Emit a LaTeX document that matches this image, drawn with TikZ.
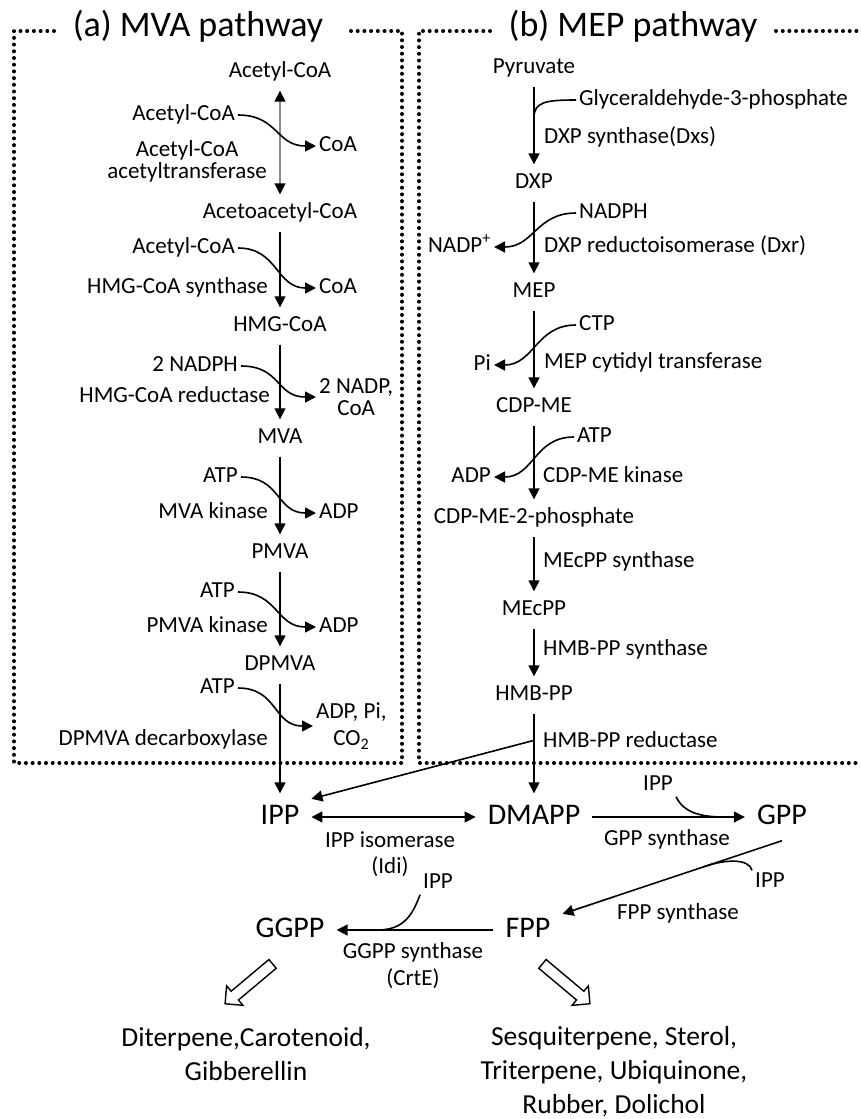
\documentclass[tikz,border=0pt]{standalone}
\usepackage{fontspec}
\setmainfont{Carlito}
\usetikzlibrary{arrows.meta,shapes.arrows,calc}
\definecolor{shaft}{HTML}{8A8A8A}

\begin{document}
\begin{tikzpicture}[
  x=1pt, y=-1pt,
  tx/.style={font=\fontsize{23}{22}\selectfont, inner xsep=3pt, inner ysep=1pt, align=center},
  lab/.style={tx, text height=16pt, text depth=5pt},
  met/.style={lab, inner ysep=8pt},
  big/.style={font=\fontsize{30}{30}\selectfont, text height=21pt, text depth=6pt, inner xsep=12pt, inner ysep=10pt},
  prod/.style={font=\fontsize{27.5}{34}\selectfont, align=center},
  ttl/.style={font=\fontsize{36}{36}\selectfont, anchor=base},
  flow/.style={-{Triangle[length=11pt,width=11pt]}, line width=1.6pt},
  dflow/.style={{Triangle[length=11pt,width=11pt]}-{Triangle[length=11pt,width=11pt]}, line width=1.6pt},
  gflow/.style={{Triangle[length=11pt,width=11pt,color=black]}-{Triangle[length=11pt,width=11pt,color=black]}, line width=1.6pt, draw=shaft},
  side/.style={line width=1.6pt},
  dots/.style={line width=4pt, dash pattern=on 0pt off 6.7pt, line cap=round},
  hollow/.style={single arrow, draw, line width=1.4pt, fill=white, inner xsep=0pt, inner ysep=5pt,
    minimum height=62pt, single arrow head extend=7pt},
]
\useasboundingbox (0,0) rectangle (860,1119);

% ===== frames and titles =====
\node[ttl] (ta) at (198,36) {(a) MVA pathway};
\node[ttl] (tb) at (633,36) {(b) MEP pathway};
\draw[dots] (54,31) -- (14,31) -- (14,763) -- (402,763) -- (402,31) -- (346,31);
\draw[dots] (490,31) -- (419,31) -- (419,763) -- (860,763);
\draw[dots] (776,31) -- (860,31);

% ===== (a) MVA pathway =====
\node[met] (acoa)  at (280,72)  {Acetyl-CoA};
\node[met] (acac)  at (280,213) {Acetoacetyl-CoA};
\node[met] (hmg)   at (280,326) {HMG-CoA};
\node[met] (mva)   at (280,438) {MVA};
\node[met] (pmva)  at (280,553) {PMVA};
\node[met] (dpmva) at (280,665) {DPMVA};

\node[lab, anchor=east] (s1a) at (238,115) {Acetyl-CoA};
\node[lab, anchor=west] (s1b) at (316,146) {CoA};
\node[tx, anchor=east]  (e1)  at (270,161) {Acetyl-CoA\\acetyltransferase};
\node[lab, anchor=east] (s2a) at (238,248) {Acetyl-CoA};
\node[lab, anchor=west] (s2b) at (316,288) {CoA};
\node[lab, anchor=east] (e2)  at (271,288) {HMG-CoA synthase};
\node[lab, anchor=east] (s3a) at (241,366) {2 NADPH};
\node[tx, anchor=west]  (s3b) at (316,397) {2 NADP,\\CoA};
\node[lab, anchor=east] (e3)  at (273,397) {HMG-CoA reductase};
\node[lab, anchor=east] (s4a) at (241,477) {ATP};
\node[lab, anchor=west] (s4b) at (316,513) {ADP};
\node[lab, anchor=east] (e4)  at (271,513) {MVA kinase};
\node[lab, anchor=east] (s5a) at (238,592) {ATP};
\node[lab, anchor=west] (s5b) at (316,627) {ADP};
\node[lab, anchor=east] (e5)  at (271,627) {PMVA kinase};
\node[lab, anchor=east] (s6a) at (238,688) {ATP};
\node[tx, font=\fontsize{23}{27}\selectfont, anchor=west] (s6b) at (313,726) {ADP, Pi,\\CO\textsubscript{2}};
\node[lab, anchor=east] (e6)  at (271,740) {DPMVA decarboxylase};

\draw[gflow] (acoa) -- (acac);
\draw[flow] (acac) -- (hmg);
\draw[flow] (hmg) -- (mva);
\draw[flow] (mva) -- (pmva);
\draw[flow] (pmva) -- (dpmva);
\draw[flow] (s1a.east) .. controls +(40,0) and +(-40,0) .. (s1b.west);
\draw[flow] (s2a.east) .. controls +(40,0) and +(-40,0) .. (s2b.west);
\draw[flow] (s3a.east) .. controls +(40,0) and +(-40,0) .. (s3b.west);
\draw[flow] (s4a.east) .. controls +(40,0) and +(-40,0) .. (s4b.west);
\draw[flow] (s5a.east) .. controls +(40,0) and +(-40,0) .. (s5b.west);
\draw[flow] (s6a.east) .. controls +(40,0) and +(-40,0) .. (s6b.west);

% ===== (b) MEP pathway =====
\node[met] (pyr)     at (534,68)  {Pyruvate};
\node[met] (dxp)     at (534,183) {DXP};
\node[met] (mep)     at (534,292) {MEP};
\node[met] (cdpme)   at (534,407) {CDP-ME};
\node[met] (cdpme2p) at (534,518) {CDP-ME-2-phosphate};
\node[met] (mecpp)   at (534,610) {MEcPP};
\node[met] (hmbpp)   at (534,695) {HMB-PP};

\node[lab, anchor=west] (g3p)   at (576,100) {Glyceraldehyde-3-phosphate};
\node[lab, anchor=west] (e7)    at (541,138) {DXP synthase(Dxs)};
\node[lab, anchor=west] (nadph) at (576,213) {NADPH};
\node[lab, anchor=east] (nadp)  at (494,247) {NADP\textsuperscript{+}};
\node[lab, anchor=west] (e8)    at (541,247) {DXP reductoisomerase (Dxr)};
\node[lab, anchor=west] (ctp)   at (576,325) {CTP};
\node[lab, anchor=east] (pi)    at (494,365) {Pi};
\node[lab, anchor=west] (e9)    at (541,363) {MEP cytidyl transferase};
\node[lab, anchor=west] (atp)   at (574,437) {ATP};
\node[lab, anchor=east] (adp)   at (494,477) {ADP};
\node[lab, anchor=west] (e10)   at (540,477) {CDP-ME kinase};
\node[lab, anchor=west] (e11)   at (540,562) {MEcPP synthase};
\node[lab, anchor=west] (e12)   at (540,650) {HMB-PP synthase};
\node[lab, anchor=west] (e13)   at (540,742) {HMB-PP reductase};

\draw[flow] (pyr) -- (dxp);
\draw[flow] (dxp) -- (mep);
\draw[flow] (mep) -- (cdpme);
\draw[flow] (cdpme) -- (cdpme2p);
\draw[flow] (cdpme2p) -- (mecpp);
\draw[flow] (mecpp) -- (hmbpp);
\coordinate (j1) at ($(pyr.south)!0.4!(dxp.north)$);
\draw[side] (g3p.west) .. controls +(-30,0) and +(0,-16) .. (j1);
\draw[flow] (nadph.west) .. controls +(-40,0) and +(40,0) .. (nadp.east);
\draw[flow] (ctp.west) .. controls +(-40,0) and +(40,0) .. (pi.east);
\draw[flow] (atp.west) .. controls +(-40,0) and +(40,0) .. (adp.east);

% ===== common part: IPP -> GPP -> FPP -> GGPP =====
\node[big] (ipp)   at (280,817) {IPP};
\node[big] (dmapp) at (534,817) {DMAPP};
\node[big] (gpp)   at (782,817) {GPP};
\node[big] (fpp)   at (528,930) {FPP};
\node[big] (ggpp)  at (290,930) {GGPP};

\draw[flow] (dpmva) -- (ipp);
\draw[flow] (hmbpp) -- (dmapp);
\coordinate (hj) at ($(hmbpp.south)!0.335!(dmapp.north)$);
\draw[flow] (hj) -- (ipp.30);

\node[tx, font=\fontsize{23}{26}\selectfont] (idi) at (390,854) {IPP isomerase\\(Idi)};
\draw[dflow] (ipp) -- (dmapp);

\node[lab] (ippa) at (658,785) {IPP};
\node[lab] (gpps) at (667,840) {GPP synthase};
\draw[flow] (dmapp) -- (gpp);
\coordinate (j2) at ($(dmapp.east)!0.87!(gpp.west)$);
\draw[side] (ippa.south east) .. controls +(8,16) and +(-25,0) .. (j2);

\node[lab] (ippb) at (770,882) {IPP};
\node[lab] (fpps) at (678,914) {FPP synthase};
\draw[flow] (gpp.south) -- (fpp.25);
\coordinate (j3) at ($(gpp.south)!0.36!(fpp.25)$);
\draw[side] (ippb.north west) .. controls +(-3,-12) and +(22,-8) .. (j3);

\node[lab] (ippc) at (438,883) {IPP};
\node[tx, font=\fontsize{23}{27}\selectfont] (ggpps) at (413,966) {GGPP synthase\\(CrtE)};
\draw[flow] (fpp) -- (ggpp);
\coordinate (j4) at ($(fpp.west)!0.74!(ggpp.east)$);
\draw[side] (ippc.south west) .. controls +(-8,22) and +(25,0) .. (j4);

% ===== products =====
\node[hollow, rotate=220] (oa) at (251,982) {};
\node[hollow, rotate=-40] (ob) at (564,982) {};
\node[prod] (dit) at (246,1054) {Diterpene,Carotenoid,\\Gibberellin};
\node[prod] (ses) at (614,1072) {Sesquiterpene, Sterol,\\Triterpene, Ubiquinone,\\Rubber, Dolichol};

\end{tikzpicture}
\end{document}
